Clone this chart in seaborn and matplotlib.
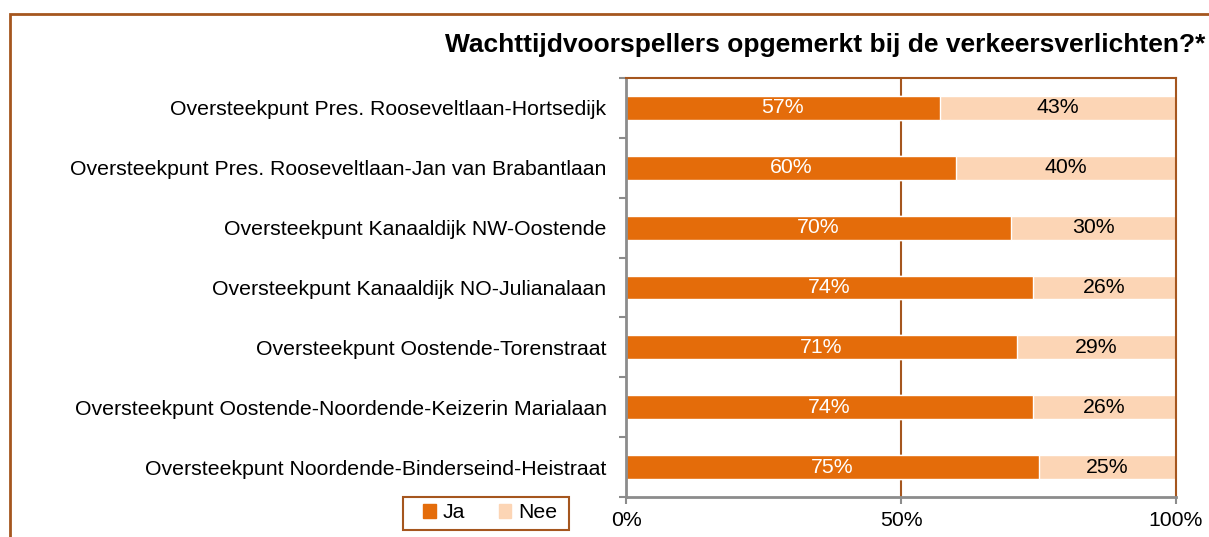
import numpy as np
import pandas as pd
import matplotlib
matplotlib.use("Agg")
import matplotlib.pyplot as plt
import seaborn as sns
from matplotlib.patches import Rectangle, Patch
from matplotlib.ticker import FixedLocator

sns.set_theme(style="white")
plt.rcParams['font.family'] = ['Liberation Sans', 'DejaVu Sans']
plt.rcParams['text.color'] = 'black'
plt.rcParams['xtick.color'] = 'black'
plt.rcParams['ytick.color'] = 'black'

# Données
locaties = [
    "Oversteekpunt Pres. Rooseveltlaan-Hortsedijk",
    "Oversteekpunt Pres. Rooseveltlaan-Jan van Brabantlaan",
    "Oversteekpunt Kanaaldijk NW-Oostende",
    "Oversteekpunt Kanaaldijk NO-Julianalaan",
    "Oversteekpunt Oostende-Torenstraat",
    "Oversteekpunt Oostende-Noordende-Keizerin Marialaan",
    "Oversteekpunt Noordende-Binderseind-Heistraat",
]
ja = [57, 60, 70, 74, 71, 74, 75]
nee = [43, 40, 30, 26, 29, 26, 25]

ORANJE = "#E46C0A"
LICHT = "#FCD5B5"
BRUIN = "#A5561E"
GRIJS = "#8C8C8C"
FS = 15.3

df = pd.DataFrame({"Locatie": locaties, "Ja": ja, "Nee": nee})
df["Totaal"] = df["Ja"] + df["Nee"]

fig = plt.figure(figsize=(12.09, 5.37), dpi=100)
ax = fig.add_axes([626 / 1209, 1 - 497 / 537, 550 / 1209, 419 / 537])

# Gestapelde balken: eerst totaal (Nee), dan Ja erover
sns.barplot(data=df, y="Locatie", x="Totaal", color=LICHT, orient="h",
            width=0.4, saturation=1, ax=ax)
sns.barplot(data=df, y="Locatie", x="Ja", color=ORANJE, orient="h",
            width=0.4, saturation=1, ax=ax)

for i, (j, n) in enumerate(zip(ja, nee)):
    ax.text(j / 2, i, f"{j}%", ha="center", va="center", color="white", fontsize=FS)
    ax.text(j + n / 2, i, f"{n}%", ha="center", va="center", color="black", fontsize=FS)

ax.set_xlim(0, 100)
ax.set_ylim(len(locaties) - 0.5, -0.5)
ax.set_xlabel("")
ax.set_ylabel("")
ax.set_xticks([0, 50, 100])
ax.set_xticklabels(["0%", "50%", "100%"], fontsize=FS)
ax.tick_params(axis="x", length=5, color=GRIJS, width=1.5, direction="out", pad=5, bottom=True)

ax.set_yticks(range(len(locaties)))
ax.set_yticklabels(locaties, fontsize=FS)
ax.tick_params(axis="y", which="major", length=0, pad=14)
ax.yaxis.set_minor_locator(FixedLocator(np.arange(-0.5, len(locaties), 1)))
ax.tick_params(axis="y", which="minor", length=5, color=GRIJS, width=1.5, left=True)

ax.axvline(50, color=BRUIN, lw=1.5, zorder=0)
ax.spines["left"].set_color(GRIJS)
ax.spines["bottom"].set_color(GRIJS)
ax.spines["left"].set_linewidth(2)
ax.spines["bottom"].set_linewidth(2)
ax.spines["top"].set_color(BRUIN)
ax.spines["right"].set_color(BRUIN)
ax.spines["top"].set_linewidth(1.5)
ax.spines["right"].set_linewidth(1.5)
ax.grid(False)

fig.text(1205 / 1209, 1 - 45 / 537, "Wachttijdvoorspellers opgemerkt bij de verkeersverlichten?*",
         ha="right", va="center", fontsize=19, fontweight="bold")

# Legende zonder eigen kader, kader apart getekend
handles = [Patch(color=ORANJE, label="Ja"), Patch(color=LICHT, label="Nee")]
leg = fig.legend(handles=handles, loc="center", bbox_to_anchor=(490 / 1209, 1 - 513 / 537),
                 ncol=2, frameon=False, fontsize=FS, handlelength=0.6,
                 handleheight=0.6, handletextpad=0.3, columnspacing=1.6, borderpad=0.2,
                 borderaxespad=0)
fig.patches.append(Rectangle((403 / 1209, 1 - 530 / 537), 166 / 1209, 33 / 537,
                             transform=fig.transFigure, fill=False, edgecolor=BRUIN, lw=1.5))

# Kader rond de grafiek
fig.patches.append(Rectangle((10 / 1209, -0.1), 1.2, 1 - 14 / 537 + 0.1, transform=fig.transFigure,
                             fill=False, edgecolor=BRUIN, lw=2))

fig.savefig("out.png", dpi=100)
